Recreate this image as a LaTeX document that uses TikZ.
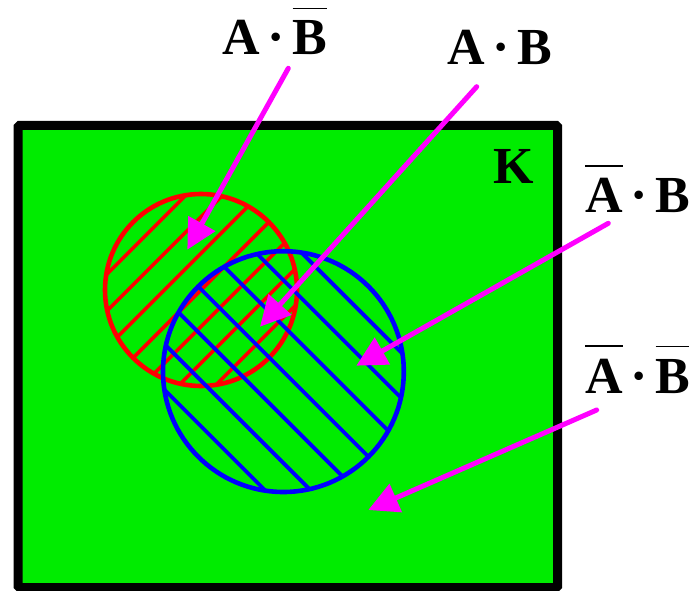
\documentclass[tikz,border=0pt]{standalone}
\usepackage{fontspec}
\setmainfont{Liberation Serif}
\usetikzlibrary{arrows.meta}
\definecolor{boxgreen}{RGB}{0,236,0}
\definecolor{pinkarrow}{RGB}{255,0,255}
\newcommand\ovl[1]{\leavevmode\vbox{\hrule height 1.3pt\kern 12pt\hbox{#1}}}
\newcommand\cdt{\kern8pt·\kern7.5pt}
\tikzset{
  lbl/.style={anchor=base west, inner sep=0pt, font=\fontsize{52}{60}\selectfont\bfseries},
  hatchred/.style={draw=red, line width=3.6pt},
  hatchblue/.style={draw=blue, line width=3.8pt},
  ptr/.style={draw=pinkarrow, line width=5pt, line cap=round, -{Triangle[length=30pt,width=30pt]}}
}
\begin{document}
\begin{tikzpicture}[x=1pt,y=-1pt]
\useasboundingbox (0,0) rectangle (689,591);
% universe box
\draw[fill=boxgreen, draw=black, line width=9pt, rounded corners=1.5pt] (18,125.5) rectangle (557.7,587.5);
% red circle hatch
\begin{scope}
  \clip (201,290) circle[radius=96];
  \foreach \k in {-3,...,3}
    \draw[hatchred] ({201+18.3*\k-150},{290+18.3*\k+150}) -- ++(300,-300);
\end{scope}
\draw[red, line width=4.6pt] (201,290) circle[radius=96];
% blue circle hatch
\begin{scope}
  \clip (283.4,371.6) circle[radius=120.4];
  \foreach \k in {-3,...,3}
    \draw[hatchblue] ({283.4+22.85*\k-180},{371.6-22.85*\k-180}) -- ++(360,360);
\end{scope}
\draw[blue, line width=4.6pt] (283.4,371.6) circle[radius=120.4];
% labels
\node[lbl] (lab1) at (222,55) {A\cdt\ovl{B}};
\node[lbl] (lab2) at (447,64.5) {A\cdt B};
\node[lbl] (lab3) at (585,213) {\ovl{A}\cdt B};
\node[lbl] (lab4) at (585,393) {\ovl{A}\cdt\ovl{B}};
\node[lbl] (labK) at (493,184) {K};
% arrow ends
\coordinate (s1) at (288.3,68.3);  \coordinate (t1) at (187.3,249.7);
\coordinate (s2) at (476.7,86.7);  \coordinate (t2) at (260,326.7);
\coordinate (s3) at (608.3,223.3); \coordinate (t3) at (356.3,365.7);
\coordinate (s4) at (596.7,410);   \coordinate (t4) at (368.3,510);
\draw[ptr] (s1) -- (t1);
\draw[ptr] (s2) -- (t2);
\draw[ptr] (s3) -- (t3);
\draw[ptr] (s4) -- (t4);
\end{tikzpicture}
\end{document}
